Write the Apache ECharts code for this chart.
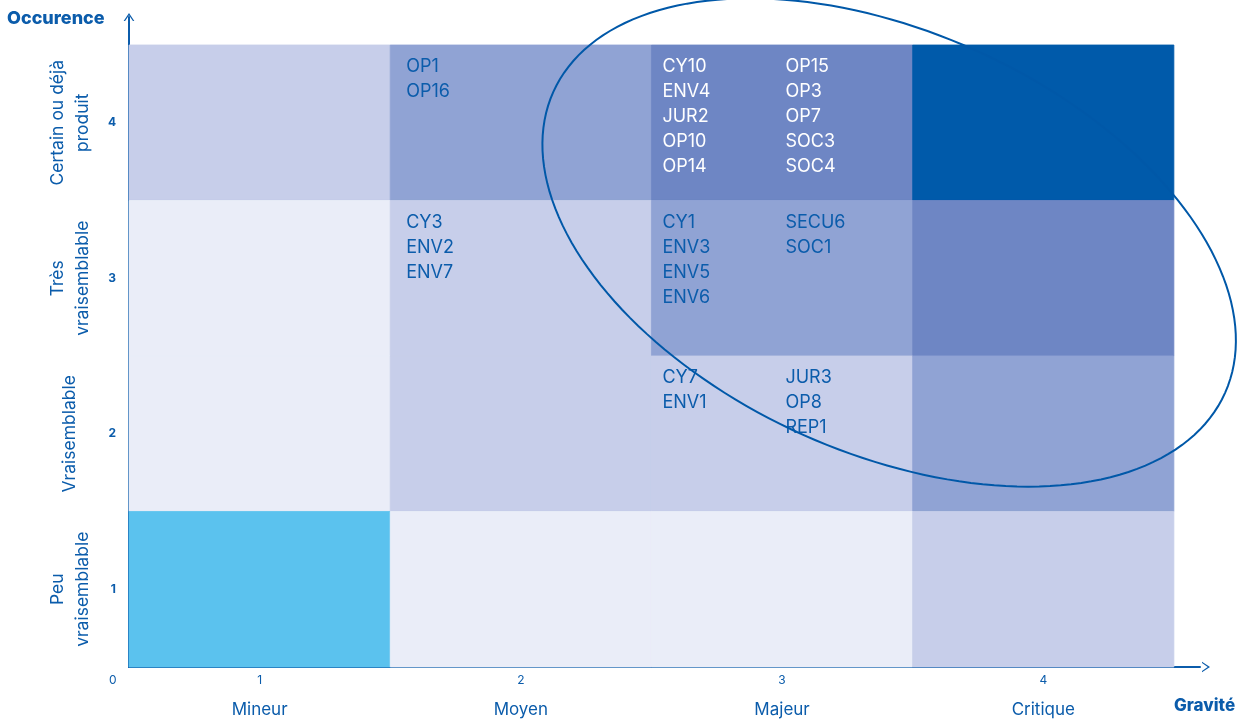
<!DOCTYPE html>
<html>
<head>
<meta charset="utf-8">
<script src="https://cdn.jsdelivr.net/npm/echarts@6/dist/echarts.min.js"></script>
<style>
html,body{margin:0;padding:0;background:#fff;}
#chart{width:1250px;height:720px;}
</style>
</head>
<body>
<div id="chart"></div>
<script>
// ---- Data ----
const gravityLabels = ['Mineur', 'Moyen', 'Majeur', 'Critique'];
const occurrenceLabels = ['Peu\nvraisemblable', 'Vraisemblable', 'Très\nvraisemblable', 'Certain ou déjà\nproduit'];
// [gravity, occurrence, intensity level]
const cellLevels = [
  [1, 4, 1], [2, 4, 2], [3, 4, 3], [4, 4, 4],
  [1, 3, 0], [2, 3, 1], [3, 3, 2], [4, 3, 3],
  [1, 2, 0], [2, 2, 1], [3, 2, 1], [4, 2, 2],
  [1, 1, 5], [2, 1, 0], [3, 1, 0], [4, 1, 1]
];
const riskCells = [[2, 4], [3, 4], [2, 3], [3, 3], [3, 2]];
const riskColumn1 = [
  ['OP1', 'OP16'],
  ['CY10', 'ENV4', 'JUR2', 'OP10', 'OP14'],
  ['CY3', 'ENV2', 'ENV7'],
  ['CY1', 'ENV3', 'ENV5', 'ENV6'],
  ['CY7', 'ENV1']
];
const riskColumn2 = [
  [],
  ['OP15', 'OP3', 'OP7', 'SOC3', 'SOC4'],
  [],
  ['SECU6', 'SOC1'],
  ['JUR3', 'OP8', 'REP1']
];
// highlighted zone: centre and two conjugate semi-diameters, in data units
const zoneCenter = [3.41, 3.23];
const zoneAxisA = [1.286, -0.967];
const zoneAxisB = [-0.329, -1.237];

// ---- Styles ----
const palette = ['#EAEDF8', '#C7CEEA', '#90A3D4', '#6E86C4', '#005AAA', '#5BC2EE'];
const blue = '#0B5CAB';
const FONT = 'Inter, "Noto Sans", sans-serif';

const chart = echarts.init(document.getElementById('chart'));

const cellData = cellLevels.map(c => ({ value: c }));
const labelData = riskCells.map((c, i) => ({ value: [c[0], c[1], i] }));

const chevron = 'path://M0,9 L6,0 L12,9 L10.4,9 L6,2.6 L1.6,9 Z';

chart.setOption({
  animation: false,
  grid: { left: 129, right: 50, top: 17, bottom: 53 },
  xAxis: [{
    type: 'value', min: 0.5, max: 4.6, splitNumber: 4,
    axisLine: { show: true, symbol: ['none', chevron], symbolSize: [12, 8], symbolOffset: [0, 6], lineStyle: { color: blue, width: 2 } },
    axisTick: { show: false },
    splitLine: { show: false },
    axisLabel: {
      showMinLabel: false, showMaxLabel: false, margin: 6,
      formatter: v => Number.isInteger(v) && v >= 1 && v <= 4 ? '{n|' + v + '}\n{c|' + gravityLabels[v - 1] + '}' : '',
      rich: {
        n: { fontSize: 12, lineHeight: 14, color: blue, fontFamily: FONT },
        c: { fontSize: 17, lineHeight: 46, color: blue, fontFamily: FONT }
      }
    }
  }],
  yAxis: [{
    type: 'value', min: 0.5, max: 4.68, splitNumber: 4,
    axisLine: { show: true, symbol: ['none', chevron], symbolSize: [12, 8], symbolOffset: [0, 0], lineStyle: { color: blue, width: 2 } },
    axisTick: { show: false },
    splitLine: { show: false },
    axisLabel: {
      showMinLabel: false, showMaxLabel: false, margin: 13,
      fontSize: 12, color: blue, fontFamily: FONT, fontWeight: 'bold',
      formatter: v => Number.isInteger(v) && v >= 1 && v <= 4 ? String(v) : ''
    }
  }, {
    type: 'value', min: 0.5, max: 4.68, splitNumber: 4, position: 'left',
    axisLine: { show: false }, axisTick: { show: false }, splitLine: { show: false },
    axisLabel: {
      showMinLabel: false, showMaxLabel: false, margin: 59, rotate: 90,
      align: 'center', verticalAlign: 'middle', lineHeight: 25,
      fontSize: 17.5, color: blue, fontFamily: FONT,
      formatter: v => Number.isInteger(v) && v >= 1 && v <= 4 ? occurrenceLabels[v - 1] : ''
    }
  }],
  graphic: [
    { type: 'text', left: 7, top: 10, style: { text: 'Occurence', font: '800 18px ' + FONT, fill: blue } },
    { type: 'text', left: 1174, top: 697, style: { text: 'Gravité', font: '800 17px ' + FONT, fill: blue } },
    { type: 'text', left: 109, top: 674, style: { text: '0', font: '12px ' + FONT, fill: blue } }
  ],
  series: [{
    type: 'custom',
    xAxisIndex: 0, yAxisIndex: 0,
    data: cellData,
    z: 1,
    renderItem: (params, api) => {
      const p0 = api.coord([api.value(0) - 0.5, api.value(1) + 0.5]);
      const p1 = api.coord([api.value(0) + 0.5, api.value(1) - 0.5]);
      const fill = palette[api.value(2)];
      return {
        type: 'rect',
        shape: { x: p0[0], y: p0[1], width: p1[0] - p0[0], height: p1[1] - p0[1] },
        style: { fill: fill, stroke: fill, lineWidth: 0.8 }
      };
    }
  }, {
    type: 'custom',
    xAxisIndex: 0, yAxisIndex: 0,
    data: labelData,
    z: 2,
    renderItem: (params, api) => {
      const gx = api.value(0), gy = api.value(1), idx = api.value(2);
      const p0 = api.coord([gx - 0.5, gy + 0.5]);
      const lvl = cellLevels.find(c => c[0] === gx && c[1] === gy)[2];
      const col = lvl >= 3 ? '#FFFFFF' : blue;
      const twoCols = riskColumn2[idx].length > 0;
      const children = [];
      [riskColumn1[idx], riskColumn2[idx]].forEach((list, ci) => {
        list.forEach((t, li) => {
          children.push({
            type: 'text',
            style: {
              text: t, x: p0[0] + (ci === 0 ? (twoCols ? 11 : 16) : 134), y: p0[1] + 22 + li * 25,
              fill: col, font: '18px ' + FONT, verticalAlign: 'middle', align: 'left'
            }
          });
        });
      });
      return { type: 'group', children };
    }
  }, {
    type: 'custom',
    xAxisIndex: 0, yAxisIndex: 0,
    data: [{ value: [zoneCenter[0], zoneCenter[1]] }],
    clip: false,
    z: 3,
    renderItem: (params, api) => {
      const pts = [];
      const n = 180;
      for (let i = 0; i < n; i++) {
        const t = (i / n) * Math.PI * 2;
        pts.push(api.coord([
          zoneCenter[0] + zoneAxisA[0] * Math.cos(t) + zoneAxisB[0] * Math.sin(t),
          zoneCenter[1] + zoneAxisA[1] * Math.cos(t) + zoneAxisB[1] * Math.sin(t)
        ]));
      }
      return {
        type: 'polygon',
        shape: { points: pts, smooth: 0 },
        style: { fill: 'none', stroke: '#0058A8', lineWidth: 2 }
      };
    }
  }]
});
</script>
</body>
</html>
